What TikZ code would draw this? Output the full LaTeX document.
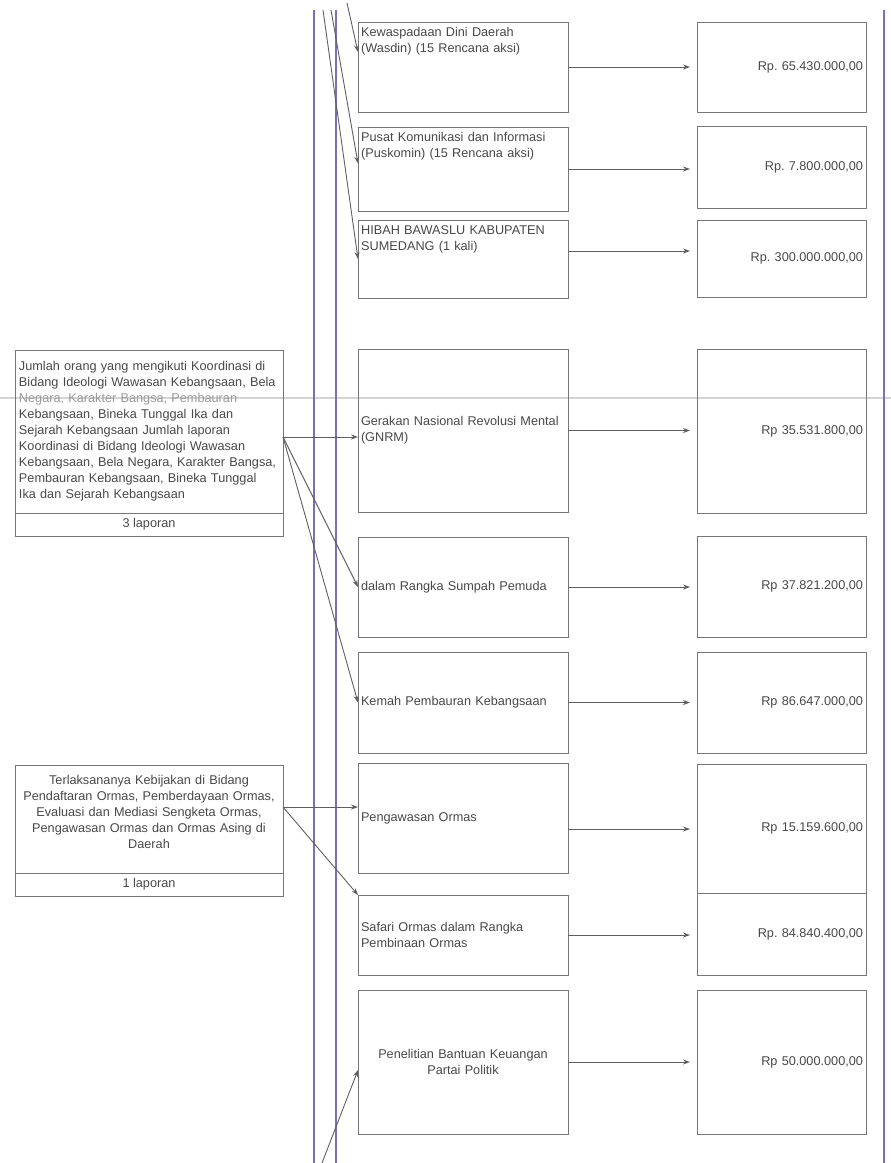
\documentclass[tikz,border=0pt]{standalone}
\usepackage{fontspec}
\setmainfont{Liberation Sans}
\usetikzlibrary{positioning,arrows.meta}
\frenchspacing

\definecolor{inkgray}{RGB}{72,72,72}
\definecolor{boxgray}{RGB}{118,118,118}
\definecolor{linkgray}{RGB}{95,95,95}
\definecolor{rulepurple}{RGB}{120,114,180}
\definecolor{foldgray}{RGB}{212,212,212}

\tikzset{
  every node/.style={font=\fontsize{12.7}{16}\selectfont, text=inkgray},
  capbox/.style={draw=boxgray, line width=0.8pt, outer sep=0pt, anchor=north west,
    text width=260pt, inner xsep=4pt, inner ysep=0pt, align=left},
  captext/.style={text width=260pt, inner xsep=4pt, inner ysep=10.4pt},
  countbox/.style={draw=boxgray, line width=0.8pt, outer sep=0pt,
    minimum width=268pt, minimum height=23pt, inner sep=0pt},
  actbox/.style={draw=boxgray, line width=0.8pt, outer sep=0pt, anchor=north west,
    text width=204pt, inner xsep=3pt, inner ysep=0pt, align=left},
  acttext/.style={anchor=north west, text width=204pt, inner xsep=3pt,
    inner ysep=5.5pt, align=left},
  costbox/.style={draw=boxgray, line width=0.6pt, outer sep=0pt, anchor=north west,
    text width=163pt, inner xsep=3pt, inner ysep=0pt, align=right},
  link/.style={draw=linkgray, line width=0.9pt, -{Stealth[length=7pt,width=5pt]}},
  feed/.style={link, shorten >=7pt},
  rule/.style={draw=rulepurple, line width=1.8pt},
  fold/.style={draw=foldgray, line width=1.4pt},
}

\begin{document}
\begin{tikzpicture}[x=1pt, y=-1pt]

  % Definitions
  \def\ruletop{10}    % Top end of the purple rules
  \def\rulebot{1163}  % Bottom end of the purple rules

  \useasboundingbox (0,0) rectangle (891,1163);

  % Fold of the scanned page
  \draw [fold] (0,398) -- (891,398);

  % Purple rules
  \foreach \x in {314,336,884}
    \draw [rule] (\x,\ruletop) -- (\x,\rulebot);

  % Left column: indicators
  \node [capbox, minimum height=163pt] (capA) at (15,350)
    {Jumlah orang yang mengikuti Koordinasi di\\
     Bidang Ideologi Wawasan Kebangsaan, Bela\\
     {\color{inkgray!55}Negara, Karakter Bangsa, Pembauran}\\
     Kebangsaan, Bineka Tunggal Ika dan\\
     Sejarah Kebangsaan Jumlah laporan\\
     Koordinasi di Bidang Ideologi Wawasan\\
     Kebangsaan, Bela Negara, Karakter Bangsa,\\
     Pembauran Kebangsaan, Bineka Tunggal\\
     Ika dan Sejarah Kebangsaan};
  \node [countbox, below=0pt of capA] (numA) {3 laporan};

  \node [capbox, minimum height=108pt] (capB) at (15,765) {};
  \node [captext, anchor=north, align=center] (capB-t) at (capB.north)
    {Terlaksananya Kebijakan di Bidang\\
     Pendaftaran Ormas, Pemberdayaan Ormas,\\
     Evaluasi dan Mediasi Sengketa Ormas,\\
     Pengawasan Ormas dan Ormas Asing di\\
     Daerah};
  \node [countbox, below=0pt of capB] (numB) {1 laporan};

  % Middle column: activities
  \node [actbox, minimum height=90pt] (wasdin) at (358,22) {};
  \node [acttext] (wasdin-t) at (wasdin.north west)
    {Kewaspadaan Dini Daerah\\(Wasdin) (15 Rencana aksi)};
  \node [actbox, minimum height=84pt] (pusk) at (358,127) {};
  \node [acttext] (pusk-t) at (pusk.north west)
    {Pusat Komunikasi dan Informasi\\(Puskomin) (15 Rencana aksi)};
  \node [actbox, minimum height=78pt] (hibah) at (358,220) {};
  \node [acttext] (hibah-t) at (hibah.north west)
    {HIBAH BAWASLU KABUPATEN\\SUMEDANG (1 kali)};

  \node [actbox, minimum height=163pt] (gnrm) at (358,349)
    {Gerakan Nasional Revolusi Mental\\(GNRM)};
  \node [actbox, minimum height=100pt] (pemuda) at (358,537)
    {dalam Rangka Sumpah Pemuda};
  \node [actbox, minimum height=101pt] (kemah) at (358,652)
    {Kemah Pembauran Kebangsaan};
  \node [actbox, minimum height=110pt] (awas) at (358,763)
    {Pengawasan Ormas};
  \node [actbox, minimum height=80pt] (safari) at (358,895)
    {Safari Ormas dalam Rangka\\Pembinaan Ormas};
  \node [actbox, minimum height=144pt, align=center] (teliti) at (358,990)
    {Penelitian Bantuan Keuangan\\Partai Politik};

  % Right column: budgets
  \node [costbox, minimum height=90pt]  (cost1) at (697,22)  {Rp. 65.430.000,00};
  \node [costbox, minimum height=82pt]  (cost2) at (697,126) {Rp. 7.800.000,00};
  \node [costbox, minimum height=77pt]  (cost3) at (697,220) {Rp. 300.000.000,00};
  \node [costbox, minimum height=164pt] (cost4) at (697,349) {Rp 35.531.800,00};
  \node [costbox, minimum height=101pt] (cost5) at (697,536) {Rp 37.821.200,00};
  \node [costbox, minimum height=101pt] (cost6) at (697,652) {Rp 86.647.000,00};
  \node [costbox, minimum height=129pt] (cost7) at (697,764) {Rp 15.159.600,00};
  \node [costbox, minimum height=82pt]  (cost8) at (697,893) {Rp. 84.840.400,00};
  \node [costbox, minimum height=144pt] (cost9) at (697,990) {Rp 50.000.000,00};

  % Free ends of the connectors
  \coordinate (top1) at (347,3);
  \coordinate (top2) at (331,10);
  \coordinate (top3) at (323,10);
  \coordinate (bot) at (322,1163);
  \coordinate (a-out) at ([yshift=-5.5pt]capA.east);
  \coordinate (b-out) at ([yshift=12pt]capB.east);
  \coordinate (h-out) at ([yshift=8pt]hibah.east);
  \coordinate (w-out) at ([yshift=-11pt]awas.east);

  % Connectors into the activities
  \draw [link] (top1) -- ([yshift=15pt]wasdin.west);
  \draw [link] (top2) -- ([yshift=5.5pt]pusk.west);
  \draw [link] (top3) -- (hibah.west);
  \draw [link] (a-out) -- (a-out -| gnrm.west);
  \draw [link] (a-out) -- (pemuda.west);
  \draw [link] (a-out) -- (kemah.west);
  \draw [link] (b-out) -- (b-out -| awas.west);
  \draw [link] (b-out) -- (safari.north west);
  \draw [link] (bot) -- ([yshift=-8pt]teliti.west);

  % Connectors into the budgets
  \draw [feed] (wasdin.east) -- (wasdin.east -| cost1.west);
  \draw [feed] (pusk.east) -- (pusk.east -| cost2.west);
  \draw [feed] (h-out) -- (h-out -| cost3.west);
  \draw [feed] (gnrm.east) -- (gnrm.east -| cost4.west);
  \draw [feed] (pemuda.east) -- (pemuda.east -| cost5.west);
  \draw [feed] (kemah.east) -- (kemah.east -| cost6.west);
  \draw [feed] (w-out) -- (w-out -| cost7.west);
  \draw [feed] (safari.east) -- (safari.east -| cost8.west);
  \draw [feed] (teliti.east) -- (teliti.east -| cost9.west);

\end{tikzpicture}
\end{document}
